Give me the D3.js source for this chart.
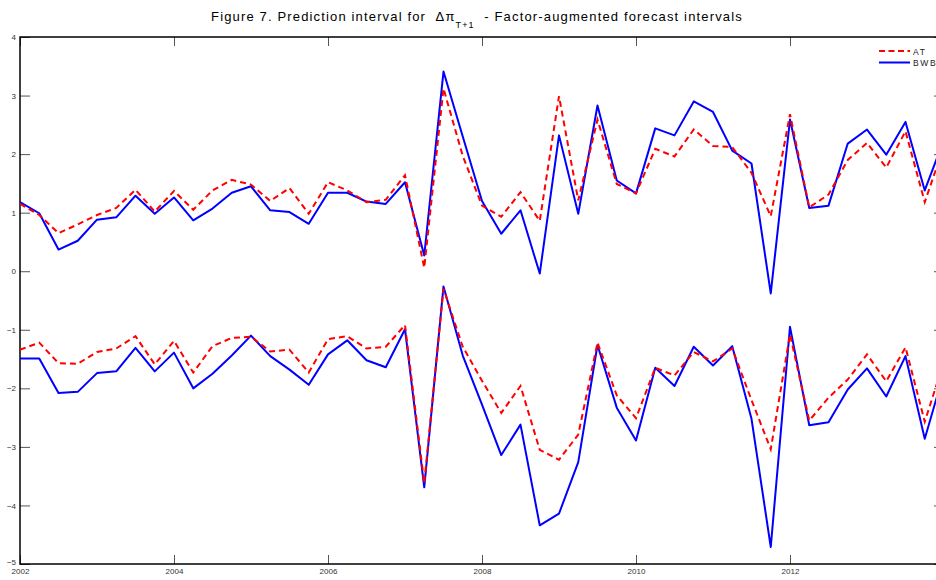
<!DOCTYPE html>
<html>
<head>
<meta charset="utf-8">
<title>Figure 7</title>
<script src="https://cdnjs.cloudflare.com/ajax/libs/d3/7.8.5/d3.min.js"></script>
<style>
  body { margin: 0; background: #fff; }
  svg { display: block; font-family: "Liberation Sans", Arial, sans-serif; }
  .tick text { fill: #333; font-size: 8px; }
</style>
</head>
<body>
<div id="chart"></div>
<script>
// quarterly observations, 2002Q1 .. 2014Q1
const quarters = d3.range(0, 49).map(i => 2002 + i / 4);

const atUpper = [1.15, 0.96, 0.65, 0.80, 0.96, 1.08, 1.39, 1.02, 1.37, 1.05,
  1.38, 1.56, 1.48, 1.20, 1.42, 0.98, 1.52, 1.38, 1.18, 1.22,
  1.64, 0.06, 3.12, 1.97, 1.12, 0.93, 1.35, 0.86, 2.99, 1.21,
  2.59, 1.49, 1.33, 2.09, 1.96, 2.42, 2.14, 2.12, 1.68, 0.94,
  2.68, 1.09, 1.31, 1.90, 2.19, 1.77, 2.39, 1.18, 2.14];
const atLower = [-1.34, -1.22, -1.57, -1.58, -1.38, -1.32, -1.11, -1.59, -1.19, -1.73,
  -1.28, -1.14, -1.12, -1.37, -1.34, -1.73, -1.16, -1.11, -1.32, -1.29,
  -0.92, -3.62, -0.30, -1.29, -1.87, -2.42, -1.96, -3.05, -3.22, -2.79,
  -1.22, -2.12, -2.51, -1.65, -1.78, -1.38, -1.54, -1.32, -2.20, -3.04,
  -1.08, -2.55, -2.16, -1.85, -1.42, -1.88, -1.30, -2.57, -1.54];
const bwbUpper = [1.18, 0.99, 0.37, 0.52, 0.88, 0.92, 1.29, 0.98, 1.26, 0.87,
  1.07, 1.34, 1.45, 1.04, 1.01, 0.81, 1.34, 1.34, 1.19, 1.15,
  1.52, 0.27, 3.41, 2.30, 1.20, 0.64, 1.04, -0.04, 2.32, 0.98,
  2.83, 1.55, 1.33, 2.44, 2.32, 2.90, 2.72, 2.06, 1.84, -0.38,
  2.59, 1.08, 1.12, 2.18, 2.42, 1.99, 2.55, 1.38, 2.25];
const bwbLower = [-1.49, -1.49, -2.08, -2.06, -1.74, -1.71, -1.31, -1.71, -1.39, -2.00,
  -1.75, -1.44, -1.10, -1.45, -1.68, -1.94, -1.42, -1.18, -1.52, -1.64,
  -0.99, -3.69, -0.26, -1.44, -2.28, -3.14, -2.62, -4.34, -4.14, -3.26,
  -1.26, -2.33, -2.89, -1.65, -1.96, -1.29, -1.61, -1.28, -2.52, -4.71,
  -0.95, -2.63, -2.58, -2.02, -1.66, -2.14, -1.45, -2.86, -1.73];

const xTicks = [2002, 2004, 2006, 2008, 2010, 2012];
const yTicks = [-5, -4, -3, -2, -1, 0, 1, 2, 3, 4];
const legendNames = ["AT", "BWB"];

const W = 936, H = 580;
const pLeft = 20, pRight = 944, pTop = 37, pBottom = 564;

const svg = d3.select("#chart").append("svg")
  .attr("width", W).attr("height", H);

const x = d3.scaleLinear().domain([2002, 2014]).range([pLeft, pRight]);
const y = d3.scaleLinear().domain([-5, 4]).range([pBottom, pTop]);

svg.append("clipPath").attr("id", "plot")
  .append("rect").attr("x", pLeft).attr("y", pTop)
  .attr("width", pRight - pLeft).attr("height", pBottom - pTop);

// title
const title = svg.append("text")
  .attr("x", 477).attr("y", 21)
  .attr("text-anchor", "middle")
  .style("white-space", "pre")
  .style("font-size", "13px").style("letter-spacing", "1.15px").style("fill", "#000");
title.append("tspan").text("Figure 7. Prediction interval for  \u0394\u03c0");
title.append("tspan").attr("dy", 7).style("font-size", "9px").text("T+1");
title.append("tspan").attr("dy", -7).text("  - Factor-augmented forecast intervals");

// axes with inward ticks
function styleAxis(g) {
  g.select(".domain").remove();
  g.selectAll(".tick line").attr("stroke", "#555");
}

svg.append("g").attr("transform", "translate(0," + pBottom + ")")
  .call(d3.axisBottom(x).tickValues(xTicks).tickFormat(d3.format("d")).tickSizeInner(-9).tickSizeOuter(0).tickPadding(4))
  .call(styleAxis)
  .selectAll(".tick text").attr("dy", "0.71em").attr("y", 4);

svg.append("g").attr("transform", "translate(0," + pTop + ")")
  .call(d3.axisTop(x).tickValues(xTicks).tickFormat("").tickSizeInner(-9).tickSizeOuter(0))
  .call(styleAxis);

svg.append("g").attr("transform", "translate(" + pLeft + ",0)")
  .call(d3.axisLeft(y).tickValues(yTicks).tickFormat(d3.format("d")).tickSizeInner(-10).tickSizeOuter(0).tickPadding(4))
  .call(styleAxis)
  .selectAll(".tick text").filter(d => d === -5).attr("dy", "0.05em");

svg.append("g").attr("transform", "translate(" + pRight + ",0)")
  .call(d3.axisRight(y).tickValues(yTicks).tickFormat("").tickSizeInner(-10).tickSizeOuter(0))
  .call(styleAxis);

// frame
svg.append("rect")
  .attr("x", pLeft).attr("y", pTop)
  .attr("width", pRight - pLeft).attr("height", pBottom - pTop)
  .attr("fill", "none").attr("stroke", "#000").attr("stroke-width", 1.5);

const line = d3.line().x((d, i) => x(quarters[i])).y(d => y(d));
const lines = svg.append("g").attr("clip-path", "url(#plot)");

[bwbUpper, bwbLower].forEach(s => {
  lines.append("path").datum(s)
    .attr("d", line).attr("fill", "none")
    .attr("stroke", "#0000ff").attr("stroke-width", 2)
    .attr("stroke-linejoin", "round");
});
[atUpper, atLower].forEach(s => {
  lines.append("path").datum(s)
    .attr("d", line).attr("fill", "none")
    .attr("stroke", "#ff0000").attr("stroke-width", 2)
    .attr("stroke-dasharray", "6,4");
});

// legend
const legend = svg.append("g").attr("transform", "translate(879,51)");
legendNames.forEach((name, i) => {
  const row = legend.append("g").attr("transform", "translate(0," + (i * 11.5) + ")");
  row.append("line").attr("x1", 0).attr("x2", 31).attr("y1", 0).attr("y2", 0)
    .attr("stroke", i === 0 ? "#ff0000" : "#0000ff").attr("stroke-width", 2)
    .attr("stroke-dasharray", i === 0 ? "6,3.5" : null);
  row.append("text").attr("x", 34).attr("y", 3.5)
    .style("font-size", "8.5px").style("letter-spacing", "1.6px").style("fill", "#222")
    .text(name);
});
</script>
</body>
</html>
